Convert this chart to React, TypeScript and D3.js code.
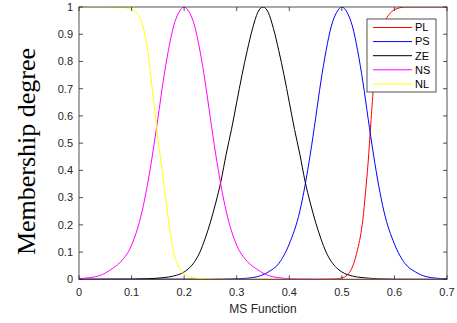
import React from 'react';
import * as d3 from 'd3';

// values
const plX = [0, 0.45, 0.48, 0.49, 0.5, 0.51, 0.52, 0.53, 0.535, 0.54, 0.545, 0.55, 0.555, 0.56, 0.565, 0.57, 0.575, 0.58, 0.585, 0.59, 0.6, 0.61, 0.62, 0.7];
const plY = [0, 0, 0.001, 0.002, 0.005, 0.015, 0.045, 0.11, 0.155, 0.22, 0.32, 0.43, 0.57, 0.7, 0.78, 0.84, 0.89, 0.93, 0.958, 0.973, 0.99, 0.997, 1, 1];

const psX = [0, 0.25, 0.3, 0.32, 0.34, 0.36, 0.38, 0.4, 0.42, 0.43, 0.44, 0.45, 0.46, 0.47, 0.48, 0.49, 0.5, 0.51, 0.52, 0.53, 0.54, 0.55, 0.56, 0.57, 0.58, 0.6, 0.62, 0.64, 0.66, 0.68, 0.7];
const psY = [0, 0.0005, 0.002, 0.004, 0.01, 0.027, 0.058, 0.13, 0.25, 0.345, 0.46, 0.59, 0.725, 0.84, 0.93, 0.98, 1, 0.98, 0.93, 0.84, 0.725, 0.59, 0.46, 0.345, 0.25, 0.13, 0.058, 0.027, 0.01, 0.004, 0.002];

const zeX = [0, 0.1, 0.13, 0.16, 0.18, 0.2, 0.21, 0.22, 0.23, 0.24, 0.25, 0.26, 0.27, 0.28, 0.29, 0.3, 0.31, 0.32, 0.33, 0.34, 0.35, 0.36, 0.37, 0.38, 0.39, 0.4, 0.41, 0.42, 0.43, 0.44, 0.45, 0.46, 0.47, 0.48, 0.49, 0.5, 0.52, 0.54, 0.57, 0.6, 0.7];
const zeY = [0, 0.0005, 0.002, 0.006, 0.012, 0.027, 0.042, 0.065, 0.1, 0.15, 0.21, 0.28, 0.36, 0.46, 0.55, 0.65, 0.75, 0.84, 0.92, 0.98, 1, 0.98, 0.92, 0.84, 0.75, 0.65, 0.55, 0.46, 0.36, 0.28, 0.21, 0.15, 0.1, 0.065, 0.042, 0.027, 0.012, 0.006, 0.002, 0.0005, 0];

const nsX = [0, 0.02, 0.04, 0.06, 0.08, 0.1, 0.12, 0.13, 0.14, 0.15, 0.16, 0.17, 0.18, 0.19, 0.2, 0.21, 0.22, 0.23, 0.24, 0.25, 0.26, 0.27, 0.28, 0.3, 0.32, 0.34, 0.36, 0.38, 0.4, 0.45, 0.5, 0.7];
const nsY = [0.002, 0.006, 0.014, 0.035, 0.066, 0.125, 0.25, 0.345, 0.46, 0.59, 0.725, 0.84, 0.93, 0.98, 1, 0.98, 0.93, 0.84, 0.725, 0.59, 0.46, 0.345, 0.25, 0.125, 0.066, 0.035, 0.014, 0.006, 0.002, 0.0005, 0, 0];

const nlX = [0, 0.05, 0.08, 0.09, 0.1, 0.11, 0.12, 0.13, 0.14, 0.15, 0.16, 0.17, 0.18, 0.19, 0.2, 0.21, 0.22, 0.24, 0.27, 0.3, 0.7];
const nlY = [1, 1, 0.999, 0.997, 0.993, 0.978, 0.94, 0.85, 0.69, 0.52, 0.37, 0.22, 0.1, 0.045, 0.02, 0.01, 0.005, 0.002, 0.0005, 0, 0];

const seriesNames = ['PL', 'PS', 'ZE', 'NS', 'NL'];
const seriesColors = ['#ff0000', '#0000ff', '#000000', '#ff00ff', '#ffff00'];
const xTicks = [0, 0.1, 0.2, 0.3, 0.4, 0.5, 0.6, 0.7];
const yTicks = [0, 0.1, 0.2, 0.3, 0.4, 0.5, 0.6, 0.7, 0.8, 0.9, 1];

const W = 457, H = 323;
const m = { left: 79, right: 10, top: 7, bottom: 43.7 };
const axisColor = '#262626';
const sans = '"Liberation Sans", Arial, Helvetica, sans-serif';

export default function App() {
  const x = d3.scaleLinear().domain([0, 0.7]).range([m.left, W - m.right]);
  const y = d3.scaleLinear().domain([0, 1]).range([H - m.bottom, m.top]);
  const line = d3.line<[number, number]>().x(d => x(d[0])).y(d => y(d[1])).curve(d3.curveMonotoneX);

  const series = [
    plX.map((v, i) => [v, plY[i]] as [number, number]),
    psX.map((v, i) => [v, psY[i]] as [number, number]),
    zeX.map((v, i) => [v, zeY[i]] as [number, number]),
    nsX.map((v, i) => [v, nsY[i]] as [number, number]),
    nlX.map((v, i) => [v, nlY[i]] as [number, number]),
  ];

  const [x0, x1] = x.range();
  const [yb, yt] = y.range();
  const tk = 4;

  const lg = { x: 367, y: 19, w: 69, h: 73 };

  return (
    <svg width={W} height={H} style={{ position: 'absolute', left: 0, top: 0, background: '#fff' }}>
      <defs>
        <clipPath id="plot">
          <rect x={x0} y={yt} width={x1 - x0} height={yb - yt} />
        </clipPath>
      </defs>
      <rect x={0} y={0} width={W} height={H} fill="#fff" />
      <g clipPath="url(#plot)">
        {series.map((s, i) => (
          <path key={seriesNames[i]} d={line(s) || ''} fill="none" stroke={seriesColors[i]} strokeWidth={1} />
        ))}
      </g>
      {/* box and ticks */}
      <rect x={x0} y={yt} width={x1 - x0} height={yb - yt} fill="none" stroke={axisColor} strokeWidth={0.8} />
      {xTicks.map(t => (
        <g key={'x' + t}>
          <line x1={x(t)} x2={x(t)} y1={yb} y2={yb - tk} stroke={axisColor} strokeWidth={0.8} />
          <line x1={x(t)} x2={x(t)} y1={yt} y2={yt + tk} stroke={axisColor} strokeWidth={0.8} />
          <text x={x(t)} y={yb + 17} textAnchor="middle" fontFamily={sans} fontSize={11} fill={axisColor}>{t}</text>
        </g>
      ))}
      {yTicks.map(t => (
        <g key={'y' + t}>
          <line x1={x0} x2={x0 + tk} y1={y(t)} y2={y(t)} stroke={axisColor} strokeWidth={0.8} />
          <line x1={x1} x2={x1 - tk} y1={y(t)} y2={y(t)} stroke={axisColor} strokeWidth={0.8} />
          <text x={x0 - 6} y={y(t)} dy="0.35em" textAnchor="end" fontFamily={sans} fontSize={11} fill={axisColor}>{t}</text>
        </g>
      ))}
      <text x={(x0 + x1) / 2} y={313} textAnchor="middle" fontFamily={sans} fontSize={12} fill={axisColor}>MS Function</text>
      <text transform={`translate(35,${(45 + 258) / 2}) rotate(-90)`} textAnchor="middle" fontFamily='"Liberation Serif", "Times New Roman", serif' fontSize={26} fill="#000">Membership degree</text>
      {/* legend */}
      <rect x={lg.x} y={lg.y} width={lg.w} height={lg.h} fill="#fff" stroke={axisColor} strokeWidth={0.8} />
      {seriesNames.map((n, i) => {
        const ly = lg.y + 8.5 + i * 14.1;
        return (
          <g key={'lg' + n}>
            <line x1={lg.x + 6} x2={lg.x + 45} y1={ly} y2={ly} stroke={seriesColors[i]} strokeWidth={1} />
            <text x={lg.x + 48} y={ly} dy="0.35em" fontFamily={sans} fontSize={11} fill="#000">{n}</text>
          </g>
        );
      })}
    </svg>
  );
}
